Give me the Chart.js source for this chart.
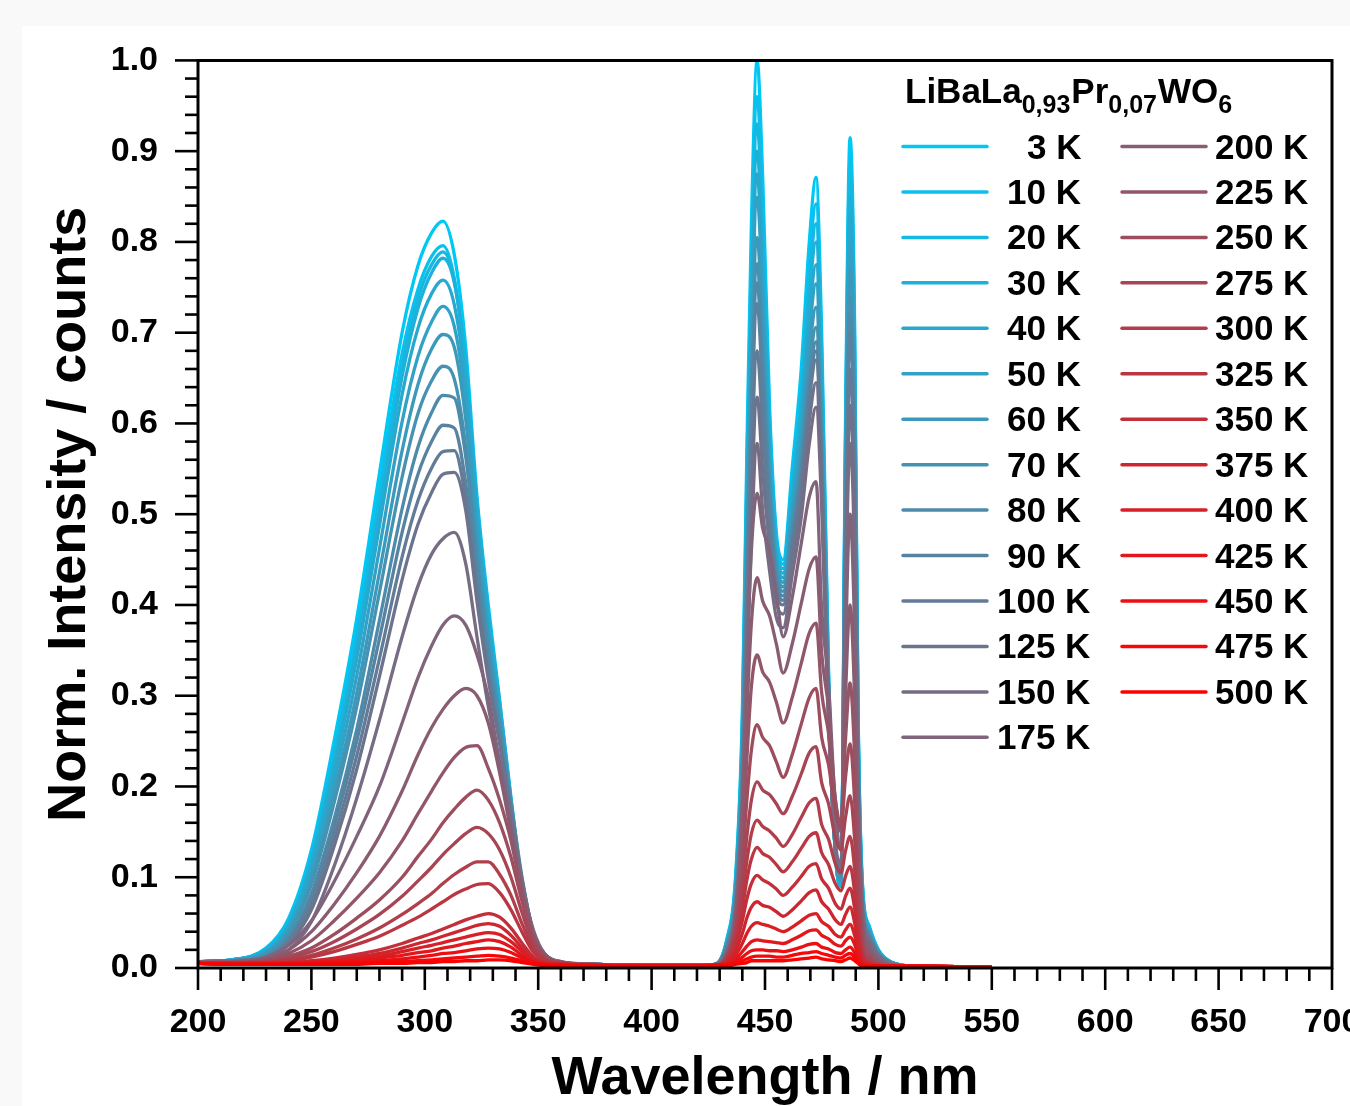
<!DOCTYPE html>
<html>
<head>
<meta charset="utf-8">
<script src="https://cdn.jsdelivr.net/npm/chart.js@4.4.1/dist/chart.umd.min.js"></script>
<style>
html, body { margin:0; padding:0; width:1350px; height:1106px; overflow:hidden; background:#f9f9f9; }
#panel { position:absolute; left:22px; top:26px; width:1400px; height:1100px; background:#fff; }
#c { position:absolute; left:22px; top:0; }
</style>
</head>
<body>
<div id="panel"></div>
<canvas id="c" width="1400" height="1126" style="width:1400px;height:1126px"></canvas>
<script>
// ---------- data ----------
const wavelengths = [200,215,230,240,250,260,270,280,290,297,303,308,313,318,323,328,333,338,343,348,353,360,375,400,420,
  428,433,437,440,442,444,446.5,449,452,455,458,462,466,469.5,472.5,475,478,481,483.5,485.5,487.5,489.5,491,493,496,500,506,515,550];

const temperatures = [3,10,20,30,40,50,60,70,80,90,100,125,150,175,200,225,250,275,300,325,350,375,400,425,450,475,500];
const seriesLabels = temperatures.map(t => t + ' K');

const s3K   = [.007,.009,.022,.055,.13,.25,.385,.545,.70,.774,.81,.823,.786,.685,.52,.40,.295,.185,.085,.032,.013,.006,.004,.003,.003,
  .004,.03,.1,.28,.57,.82,1.0,.87,.62,.48,.45,.551,.661,.799,.871,.699,.332,.129,.09,.602,.915,.714,.293,.092,.046,.02,.006,.002,.001];
const s10K  = [.007,.009,.0215,.053,.127,.242,.372,.527,.677,.748,.784,.796,.76,.662,.503,.387,.285,.179,.082,.031,.013,.006,.004,.003,.003,
  .004,.029,.096,.269,.547,.787,.96,.835,.605,.473,.445,.54,.644,.775,.842,.677,.323,.128,.09,.586,.89,.694,.285,.089,.045,.02,.006,.002,.001];
const s20K  = [.007,.009,.0205,.05,.121,.233,.362,.514,.664,.738,.775,.789,.757,.663,.509,.39,.289,.184,.087,.033,.013,.006,.004,.003,.003,
  .004,.028,.093,.26,.53,.763,.93,.809,.592,.467,.44,.531,.63,.755,.82,.659,.316,.127,.09,.574,.87,.679,.278,.087,.044,.019,.006,.002,.001];
const s30K  = [.007,.009,.0195,.048,.117,.225,.352,.502,.652,.727,.766,.782,.755,.665,.513,.391,.293,.188,.092,.035,.014,.006,.004,.003,.003,
  .004,.027,.09,.252,.513,.738,.9,.783,.579,.461,.435,.523,.618,.738,.8,.644,.311,.127,.092,.562,.85,.663,.272,.085,.043,.019,.006,.002,.001];
const s40K  = [.007,.009,.019,.047,.113,.218,.341,.487,.632,.705,.743,.758,.731,.644,.497,.379,.284,.182,.089,.034,.014,.006,.004,.003,.003,
  .004,.026,.088,.245,.499,.718,.875,.761,.568,.454,.43,.513,.603,.716,.775,.625,.305,.128,.094,.55,.83,.647,.266,.083,.042,.018,.006,.002,.001];
const s50K  = [.007,.008,.0175,.043,.105,.205,.322,.462,.602,.674,.712,.729,.707,.625,.485,.37,.279,.182,.09,.036,.015,.006,.004,.003,.003,
  .004,.025,.085,.238,.484,.696,.849,.739,.556,.448,.425,.504,.59,.698,.754,.609,.3,.129,.096,.532,.8,.624,.256,.08,.04,.018,.006,.002,.001];
const s60K  = [.007,.008,.016,.04,.097,.192,.303,.436,.57,.643,.682,.698,.684,.605,.472,.361,.273,.182,.091,.036,.014,.006,.004,.003,.003,
  .004,.024,.081,.225,.459,.66,.805,.70,.539,.441,.42,.494,.574,.676,.728,.589,.293,.13,.098,.515,.77,.601,.246,.077,.039,.017,.005,.002,.001];
const s70K  = [.007,.008,.015,.038,.092,.182,.288,.414,.541,.611,.647,.663,.649,.575,.448,.343,.259,.173,.086,.035,.013,.006,.004,.003,.003,
  .004,.023,.078,.217,.442,.636,.776,.675,.527,.435,.415,.485,.561,.657,.706,.573,.288,.13,.10,.497,.74,.577,.237,.074,.037,.016,.005,.002,.001];
const s80K  = [.007,.008,.013,.033,.082,.164,.263,.383,.506,.574,.612,.631,.628,.564,.45,.349,.266,.183,.098,.038,.015,.006,.004,.003,.003,
  .004,.023,.076,.211,.43,.619,.755,.657,.517,.429,.41,.477,.55,.642,.69,.561,.284,.131,.102,.485,.72,.562,.23,.072,.036,.016,.005,.002,.001];
const s90K  = [.007,.008,.0126,.031,.077,.155,.25,.363,.48,.544,.58,.598,.595,.535,.427,.331,.252,.173,.093,.036,.014,.006,.004,.003,.003,
  .004,.022,.073,.205,.417,.60,.732,.637,.506,.423,.405,.471,.543,.633,.68,.553,.283,.133,.104,.474,.70,.546,.224,.07,.035,.015,.005,.002,.001];
const s100K = [.007,.008,.0115,.029,.07,.144,.234,.341,.453,.515,.551,.569,.57,.517,.413,.324,.25,.171,.095,.037,.015,.006,.004,.003,.003,
  .004,.02,.068,.19,.388,.558,.68,.592,.487,.415,.40,.465,.535,.624,.67,.546,.281,.134,.106,.449,.66,.515,.211,.066,.033,.015,.005,.002,.001];
const s125K = [.007,.008,.0105,.026,.064,.134,.219,.321,.428,.489,.524,.544,.546,.505,.404,.318,.247,.17,.096,.038,.015,.006,.004,.003,.003,
  .004,.019,.063,.176,.359,.516,.629,.547,.464,.403,.39,.451,.518,.602,.645,.527,.276,.137,.11,.426,.62,.484,.198,.062,.031,.014,.004,.002,.001];
const s150K = [.007,.007,.0086,.02,.051,.112,.187,.273,.365,.421,.456,.473,.48,.446,.365,.288,.226,.161,.091,.041,.015,.006,.004,.003,.003,
  .004,.017,.058,.162,.329,.474,.578,.503,.438,.386,.375,.433,.497,.577,.618,.507,.271,.14,.115,.402,.578,.451,.185,.058,.029,.013,.004,.002,.001];
const s175K = [.007,.007,.012,.025,.052,.095,.145,.2,.27,.32,.355,.378,.388,.378,.345,.298,.225,.155,.087,.038,.015,.007,.004,.003,.003,
  .003,.015,.06,.18,.33,.46,.523,.484,.46,.412,.365,.408,.468,.519,.536,.394,.313,.179,.13,.352,.50,.375,.20,.06,.025,.01,.004,.002,.001];
const s200K = [.006,.007,.01,.02,.04,.07,.105,.145,.195,.235,.265,.285,.30,.308,.30,.27,.215,.15,.085,.036,.014,.007,.004,.003,.003,
  .003,.014,.055,.16,.28,.38,.43,.404,.388,.357,.325,.357,.402,.44,.453,.347,.286,.186,.15,.30,.40,.30,.16,.048,.02,.008,.003,.002,.001];
const s225K = [.006,.006,.009,.016,.03,.052,.077,.105,.14,.17,.195,.215,.232,.243,.245,.22,.185,.14,.08,.034,.013,.006,.004,.003,.003,
  .003,.013,.05,.135,.23,.31,.345,.326,.315,.293,.27,.298,.336,.369,.38,.303,.259,.186,.16,.252,.314,.236,.126,.038,.016,.006,.002,.002,.001];
const s250K = [.006,.006,.008,.013,.022,.037,.055,.075,.10,.123,.142,.16,.175,.188,.196,.185,.16,.122,.072,.031,.012,.006,.004,.003,.003,
  .003,.012,.045,.115,.185,.24,.268,.254,.245,.227,.21,.235,.269,.298,.308,.254,.224,.173,.155,.21,.247,.185,.099,.03,.012,.005,.002,.002,.001];
const s275K = [.006,.006,.007,.011,.018,.029,.043,.059,.079,.096,.111,.125,.137,.148,.155,.148,.13,.10,.06,.026,.011,.006,.003,.003,.003,
  .003,.011,.04,.095,.145,.185,.205,.196,.191,.181,.17,.189,.214,.237,.244,.204,.181,.144,.13,.166,.19,.143,.076,.023,.01,.004,.002,.002,.001];
const s300K = [.006,.005,.006,.009,.014,.022,.032,.044,.059,.071,.082,.093,.103,.111,.117,.117,.103,.08,.048,.021,.009,.005,.003,.003,.003,
  .003,.01,.035,.08,.118,.148,.163,.156,.151,.143,.134,.147,.166,.182,.187,.158,.142,.115,.105,.129,.145,.109,.058,.017,.007,.003,.002,.002,.001];
const s325K = [.006,.005,.006,.008,.012,.018,.026,.035,.047,.056,.065,.073,.081,.087,.092,.093,.083,.064,.039,.017,.008,.005,.003,.003,.003,
  .003,.009,.03,.065,.097,.12,.133,.126,.122,.114,.106,.117,.132,.145,.149,.127,.114,.093,.085,.101,.112,.084,.045,.013,.006,.003,.002,.002,.001];
const s350K = [.005,.005,.005,.006,.008,.011,.015,.02,.027,.033,.038,.043,.048,.053,.057,.06,.056,.044,.027,.012,.006,.004,.003,.002,.002,
  .003,.007,.025,.052,.076,.093,.102,.097,.093,.087,.08,.089,.101,.112,.115,.098,.088,.071,.065,.079,.088,.066,.035,.011,.005,.002,.002,.002,.001];
const s375K = [.005,.005,.005,.006,.007,.009,.012,.016,.022,.027,.031,.035,.039,.043,.047,.049,.046,.036,.022,.01,.005,.004,.003,.002,.002,
  .003,.006,.019,.038,.055,.067,.073,.069,.067,.062,.057,.064,.074,.083,.086,.073,.065,.053,.048,.059,.067,.05,.027,.008,.004,.002,.002,.002,.001];
const s400K = [.005,.005,.005,.005,.006,.008,.01,.013,.018,.022,.025,.028,.031,.034,.037,.039,.037,.029,.018,.008,.005,.004,.003,.002,.002,
  .003,.005,.014,.027,.038,.046,.05,.048,.046,.043,.04,.045,.052,.058,.06,.051,.046,.037,.034,.042,.048,.036,.019,.006,.003,.002,.002,.002,.001];
const s425K = [.005,.004,.004,.005,.006,.007,.008,.011,.014,.017,.019,.022,.024,.027,.029,.031,.029,.023,.014,.007,.004,.003,.003,.002,.002,
  .003,.004,.01,.018,.024,.029,.031,.03,.029,.028,.027,.031,.036,.041,.042,.036,.032,.026,.024,.03,.034,.026,.014,.004,.002,.002,.002,.002,.001];
const s450K = [.005,.004,.004,.004,.005,.006,.007,.008,.01,.012,.014,.016,.017,.019,.021,.022,.021,.017,.011,.006,.004,.003,.003,.002,.002,
  .003,.003,.007,.012,.016,.019,.02,.02,.019,.019,.018,.02,.023,.026,.027,.023,.021,.017,.016,.02,.023,.017,.009,.003,.002,.002,.002,.002,.001];
const s475K = [.005,.004,.004,.004,.004,.005,.005,.006,.007,.008,.009,.01,.011,.012,.013,.014,.013,.011,.008,.005,.003,.003,.002,.002,.002,
  .003,.003,.005,.008,.01,.012,.013,.013,.013,.012,.012,.014,.016,.017,.018,.016,.014,.012,.011,.014,.016,.012,.006,.002,.002,.002,.002,.002,.001];
const s500K = [.005,.004,.004,.004,.004,.004,.004,.005,.005,.006,.006,.007,.007,.008,.008,.009,.009,.008,.006,.004,.003,.003,.002,.002,.002,
  .003,.002,.004,.005,.006,.008,.008,.008,.008,.008,.008,.009,.01,.011,.012,.01,.009,.008,.007,.009,.011,.008,.005,.002,.002,.002,.002,.002,.001];

const series = [s3K,s10K,s20K,s30K,s40K,s50K,s60K,s70K,s80K,s90K,s100K,s125K,s150K,s175K,
  s200K,s225K,s250K,s275K,s300K,s325K,s350K,s375K,s400K,s425K,s450K,s475K,s500K];

const xTicks = [200,250,300,350,400,450,500,550,600,650,700];
const yTicks = [0,0.1,0.2,0.3,0.4,0.5,0.6,0.7,0.8,0.9,1.0];
const legendTitleParts = [['LiBaLa',false],['0,93',true],['Pr',false],['0,07',true],['WO',false],['6',true]];
const xTitle = 'Wavelength / nm';
const yTitle = 'Norm. Intensity / counts';

// ---------- styling ----------
const FONT = "'Liberation Sans', Arial, sans-serif";
function lineColor(i, n) {
  const t = i / (n - 1);
  const r = Math.round(0 + 255 * t);
  const g = Math.round(200 * (1 - t));
  const b = Math.round(245 * (1 - t));
  return 'rgb(' + r + ',' + g + ',' + b + ')';
}

const framePlugin = {
  id: 'frame',
  afterDatasetsDraw(chart) {
    const {ctx, chartArea: a, scales: {x, y}} = chart;
    ctx.save();
    ctx.strokeStyle = '#000';
    ctx.lineWidth = 3;
    ctx.beginPath();
    ctx.rect(a.left, a.top, a.right - a.left, a.bottom - a.top);
    ctx.stroke();
    ctx.lineWidth = 2.6;
    for (let v = xTicks[0]; v <= xTicks[xTicks.length - 1]; v += 10) {
      const px = x.getPixelForValue(v);
      const major = xTicks.includes(v);
      ctx.beginPath();
      ctx.moveTo(px, a.bottom);
      ctx.lineTo(px, a.bottom + (major ? 22 : 13));
      ctx.stroke();
    }
    for (let k = 0; k <= 50; k++) {
      const py = y.getPixelForValue(k * 0.02);
      const major = k % 5 === 0;
      ctx.beginPath();
      ctx.moveTo(a.left, py);
      ctx.lineTo(a.left - (major ? 23 : 13), py);
      ctx.stroke();
    }
    ctx.restore();
  }
};

const legendPlugin = {
  id: 'innerLegend',
  afterDraw(chart) {
    const ctx = chart.ctx;
    ctx.save();
    ctx.fillStyle = '#000';
    ctx.textBaseline = 'alphabetic';
    let cx = 883;
    const by = 103;
    for (const [t, sub] of legendTitleParts) {
      ctx.font = 'bold ' + (sub ? 25 : 35) + 'px ' + FONT;
      ctx.fillText(t, cx, sub ? by + 10 : by);
      cx += ctx.measureText(t).width + (sub ? 1 : 0);
    }
    ctx.font = 'bold 35px ' + FONT;
    const ds = chart.data.datasets;
    const leftOffset = {1: 30, 2: 10, 3: 0};
    ds.forEach((d, i) => {
      const col = i < 14 ? 0 : 1;
      const row = col ? i - 14 : i;
      const ly = 146.5 + row * 45.45;
      const x0 = col ? 1100 : 881;
      ctx.strokeStyle = d.borderColor;
      ctx.lineWidth = 3.5;
      ctx.lineCap = 'round';
      ctx.beginPath();
      ctx.moveTo(x0, ly);
      ctx.lineTo(x0 + 84, ly);
      ctx.stroke();
      ctx.textAlign = 'left';
      if (col === 0) {
        const digits = String(temperatures[i]).length;
        ctx.fillText(d.label, 975 + leftOffset[digits], ly + 12);
      } else {
        ctx.fillText(d.label, 1193, ly + 12);
      }
    });
    ctx.restore();
  }
};

const datasets = series.map((vals, i) => ({
  label: seriesLabels[i],
  data: wavelengths.map((w, j) => ({x: w, y: vals[j]})),
  borderColor: lineColor(i, series.length),
  borderWidth: 3.3,
  pointRadius: 0,
  fill: false,
  cubicInterpolationMode: 'monotone',
  order: series.length - i
}));

new Chart(document.getElementById('c'), {
  type: 'line',
  data: { datasets },
  options: {
    responsive: false,
    animation: false,
    devicePixelRatio: 1,
    layout: { padding: { left: 0, right: 90, top: 60, bottom: 0 } },
    plugins: { legend: { display: false }, tooltip: { enabled: false } },
    scales: {
      x: {
        type: 'linear', min: 200, max: 700,
        afterBuildTicks: s => { s.ticks = xTicks.map(v => ({value: v})); },
        afterFit: s => { s.height = 158; },
        grid: { display: false, drawTicks: false },
        border: { display: false },
        ticks: { color: '#000', padding: 34, maxRotation: 0, autoSkip: false,
                 font: { family: FONT, size: 34, weight: 'bold' }, callback: v => String(v) },
        title: { display: true, text: xTitle, color: '#000',
                 font: { family: FONT, size: 54, weight: 'bold' }, padding: { top: 0, bottom: 14.6 } }
      },
      y: {
        type: 'linear', min: 0, max: 1,
        afterBuildTicks: s => { s.ticks = yTicks.map(v => ({value: v})); },
        afterFit: s => { s.width = 176; },
        grid: { display: false, drawTicks: false },
        border: { display: false },
        ticks: { color: '#000', padding: 40, autoSkip: false,
                 font: { family: FONT, size: 34, weight: 'bold' }, callback: v => Number(v).toFixed(1) },
        title: { display: true, text: yTitle, color: '#000',
                 font: { family: FONT, size: 54, weight: 'bold' }, padding: { top: 15.6, bottom: 0 } }
      }
    }
  },
  plugins: [framePlugin, legendPlugin]
});
</script>
</body>
</html>
